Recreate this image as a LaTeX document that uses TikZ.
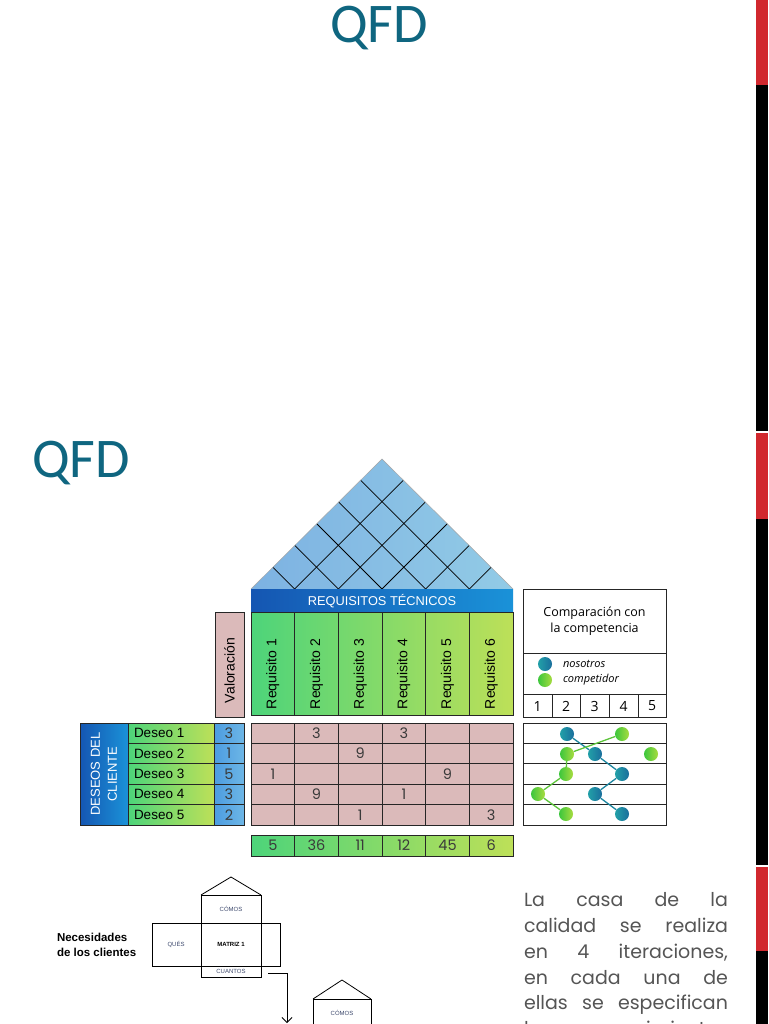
\documentclass[tikz,border=0pt]{standalone}
\usepackage{fontspec}
\setmainfont{Liberation Sans}
\newfontfamily\carlito{Carlito}
\newfontfamily\opensans{Open Sans}
\newfontfamily\poppins{Poppins}
\usetikzlibrary{arrows.meta}
\newcommand\fsz[1]{\fontsize{#1}{#1}\selectfont}
\definecolor{titleteal}{HTML}{0F6680}
\definecolor{barred}{HTML}{D1282E}
\definecolor{roofA}{HTML}{7DB2E2}
\definecolor{roofB}{HTML}{92CBE6}
\definecolor{hdrA}{HTML}{1556B2}
\definecolor{hdrB}{HTML}{1A92D8}
\definecolor{grA}{HTML}{4DD47A}
\definecolor{grB}{HTML}{BDE058}
\definecolor{pinkc}{HTML}{DBBABA}
\definecolor{valA}{HTML}{4C9CE0}
\definecolor{valB}{HTML}{6DB6E6}
\definecolor{tealA}{HTML}{22A0A8}
\definecolor{tealB}{HTML}{1A6E9C}
\definecolor{greenA}{HTML}{3CC63C}
\definecolor{greenB}{HTML}{A8DC40}
\definecolor{tealline}{HTML}{1D86A0}
\definecolor{greenline}{HTML}{5CC43A}
\definecolor{graytxt}{HTML}{555555}
\definecolor{numtxt}{HTML}{3A3A3A}
\definecolor{smalltxt}{HTML}{3E4A6E}
\begin{document}
\begin{tikzpicture}[x=1pt,y=-1pt,
  cellline/.style={draw=black!85, line width=0.9pt},
  thin/.style={draw=black, line width=0.8pt},
  plain/.style={inner sep=0pt, outer sep=0pt},
  reqlabel/.style={plain, rotate=90, anchor=west, font=\fsz{14}, text=black},
  numlabel/.style={plain, font=\poppins\fsz{14.5}, text=numtxt},
  tealdot/.style={circle, inner sep=0pt, minimum size=14pt, left color=tealA, right color=tealB},
  greendot/.style={circle, inner sep=0pt, minimum size=14pt, left color=greenA, right color=greenB},
  tealconn/.style={draw=tealline, line width=1.3pt},
  greenconn/.style={draw=greenline, line width=1.3pt},
  smalllabel/.style={plain, font=\fsz{6}, text=smalltxt},
  paraline/.style={plain, anchor=base west, font=\poppins\fsz{19}, text=graytxt}
]
\useasboundingbox (0,0) rectangle (768,1024);
\fill[white] (0,0) rectangle (768,1024);

% right edge bar
\fill[barred] (756,0) rectangle (768,85);
\fill[black] (756,85) rectangle (768,431);
\fill[barred] (756,433) rectangle (768,519);
\fill[black] (756,519) rectangle (768,865);
\fill[barred] (756,867) rectangle (768,951);
\fill[black] (756,951) rectangle (768,1024);

% titles
\node[plain, anchor=base, text=titleteal, font=\carlito\fsz{56}] (title1) at (379,43) {QFD};
\node[plain, anchor=base west, text=titleteal, font=\carlito\fsz{56}] (title2) at (32,477) {QFD};

% roof
\coordinate (rl) at (251,589);
\coordinate (rr) at (513,589);
\coordinate (ra) at (382,459);
\shade[left color=roofA, right color=roofB] (rl) -- (ra) -- (rr) -- cycle;
\begin{scope}
  \clip (rl) -- (ra) -- (rr) -- cycle;
  \foreach \k in {1,...,5} {
    \draw[black, line width=0.8pt] ({251+\k*43.667},589) -- ++(-160,-160);
    \draw[black, line width=0.8pt] ({251+\k*43.667},589) -- ++(160,-160);
  }
\end{scope}
\draw[black!35, line width=0.5pt] (rl) -- (ra) -- (rr);

% header
\shade[left color=hdrA, right color=hdrB] (251,589) rectangle (513,612);
\node[plain, text=white, font=\fsz{12.8}] (hdr) at (382,601) {REQUISITOS TÉCNICOS};

% requisito columns
\shade[left color=grA, right color=grB] (251,612) rectangle (513,715);
\foreach \k in {1,...,5} \draw[cellline] ({251+\k*43.667},612) -- ({251+\k*43.667},715);
\draw[cellline] (251,612) rectangle (513,715);
\foreach \k in {1,...,6} \node[reqlabel] (req\k) at ({251+(\k-0.5)*43.667},709) {Requisito \k};

% valoracion
\filldraw[fill=pinkc, cellline] (215,612) rectangle (244,717);
\node[reqlabel] (val) at (229.5,703) {Valoración};

% deseos block
\shade[left color=hdrA, right color=hdrB] (80,723) rectangle (128,825);
\node[plain, rotate=90, text=white, align=center, font=\fontsize{13}{17}\selectfont] (dc) at (104,774) {DESEOS DEL\\CLIENTE};
\shade[left color=grA, right color=grB] (128,723) rectangle (214,825);
\shade[left color=valA, right color=valB] (214,723) rectangle (244,825);
\foreach \i in {1,...,4} \draw[cellline] (128,{723+\i*20.4}) -- (244,{723+\i*20.4});
\draw[cellline] (128,723) -- (128,825) (214,723) -- (214,825);
\draw[cellline] (80,723) rectangle (244,825);
\foreach \i/\v in {1/3,2/1,3/5,4/3,5/2} {
  \node[plain, anchor=west, font=\fsz{13.5}, text=black] (des\i) at (134,{723+(\i-0.5)*20.4}) {Deseo \i};
  \node[numlabel] (dv\i) at (229,{723+(\i-0.5)*20.4}) {\v};
}

% relationship matrix
\fill[pinkc] (251,723) rectangle (513,825);
\foreach \i in {1,...,4} \draw[cellline] (251,{723+\i*20.4}) -- (513,{723+\i*20.4});
\foreach \k in {1,...,5} \draw[cellline] ({251+\k*43.667},723) -- ({251+\k*43.667},825);
\draw[cellline] (251,723) rectangle (513,825);
\foreach \r/\c/\v in {1/2/3,1/4/3,2/3/9,3/1/1,3/5/9,4/2/9,4/4/1,5/3/1,5/6/3}
  \node[numlabel] (m\r\c) at ({251+(\c-0.5)*43.667},{723+(\r-0.5)*20.4}) {\v};

% totals row
\shade[left color=grA, right color=grB] (251,835) rectangle (513,856);
\foreach \k in {1,...,5} \draw[cellline] ({251+\k*43.667},835) -- ({251+\k*43.667},856);
\draw[cellline] (251,835) rectangle (513,856);
\foreach \c/\v in {1/5,2/36,3/11,4/12,5/45,6/6}
  \node[numlabel] (tot\c) at ({251+(\c-0.5)*43.667},845.5) {\v};

% comparison panel
\draw[cellline] (523,589) rectangle (666,717);
\draw[cellline] (523,653) -- (666,653);
\draw[cellline] (523,694) -- (666,694);
\foreach \x in {552,580,609,638} \draw[cellline] (\x,694) -- (\x,717);
\node[plain, align=center, font=\opensans\fontsize{12.5}{16}\selectfont, text=black] (cmp) at (594.5,621) {Comparación con\\la competencia};
\node[tealdot] (legT) at (545,664) {};
\node[greendot] (legG) at (545,680) {};
\node[plain, anchor=west, font=\opensans\itshape\fsz{11}] (legTt) at (563,664) {nosotros};
\node[plain, anchor=west, font=\opensans\itshape\fsz{11}] (legGt) at (563,680) {competidor};
\foreach \n/\x in {1/537.5,2/566,3/594.5,4/623.5,5/652}
  \node[plain, font=\opensans\fsz{14}] (sc\n) at (\x,706) {\n};

% comparison grid
\draw[cellline] (523,723) rectangle (666,825);
\foreach \i in {1,...,4} \draw[cellline] (523,{723+\i*20.4}) -- (666,{723+\i*20.4});

% dots
\node[tealdot] (t1) at (567,734) {};
\node[tealdot] (t2) at (595,754) {};
\node[tealdot] (t3) at (622,774) {};
\node[tealdot] (t4) at (595,794) {};
\node[tealdot] (t5) at (622,814) {};
\node[greendot] (g1) at (622,734) {};
\node[greendot] (g2) at (567,754) {};
\node[greendot] (g2b) at (651,754) {};
\node[greendot] (g3) at (566,774) {};
\node[greendot] (g4) at (538,794) {};
\node[greendot] (g5) at (566,814) {};
\draw[tealconn] (t1) -- (t2) -- (t3) -- (t4) -- (t5);
\draw[greenconn] (g1) -- (g2) -- (g3) -- (g4) -- (g5);

% small house diagram
\draw[thin] (201,895) -- (231,877) -- (261,895);
\draw[thin] (201,895) rectangle (261,977);
\draw[thin] (152,923) rectangle (280,966);
\node[smalllabel] (h1c) at (231,909) {CÓMOS};
\node[smalllabel] (h1q) at (176,944) {QUÉS};
\node[plain, font=\bfseries\fsz{6}] (h1m) at (231,944) {MATRIZ 1};
\node[smalllabel] (h1n) at (231,971.5) {CUANTOS};
\node[plain, anchor=west, align=left, font=\bfseries\fontsize{11.5}{15}\selectfont] (nec) at (57,944.5) {Necesidades\\de los clientes};
\coordinate (a0) at (268,973);
\coordinate (a1) at (287,973);
\coordinate (a2) at (287,1023);
\draw[thin, -{Straight Barb[length=5pt, width=10pt]}] (a0) -- (a1) -- (a2);
\draw[thin] (313,999) -- (342,980) -- (371,999);
\draw[thin] (313,999) rectangle (371,1040);
\node[smalllabel] (h2c) at (342,1013) {CÓMOS};

% paragraph
\begin{scope}
  \clip (0,0) rectangle (768,1024);
  \node[paraline] (p1) at (524,906.7) {\makebox[204pt][s]{La casa de la}};
  \node[paraline] (p2) at (524,932.5) {\makebox[204pt][s]{calidad se realiza}};
  \node[paraline] (p3) at (524,958.3) {\makebox[204pt][s]{en 4 iteraciones,}};
  \node[paraline] (p4) at (524,984.1) {\makebox[204pt][s]{en cada una de}};
  \node[paraline] (p5) at (524,1009.9) {\makebox[204pt][s]{ellas se especifican}};
  \node[paraline] (p6) at (524,1035.7) {\makebox[204pt][s]{los requerimientos}};
\end{scope}
\end{tikzpicture}
\end{document}
